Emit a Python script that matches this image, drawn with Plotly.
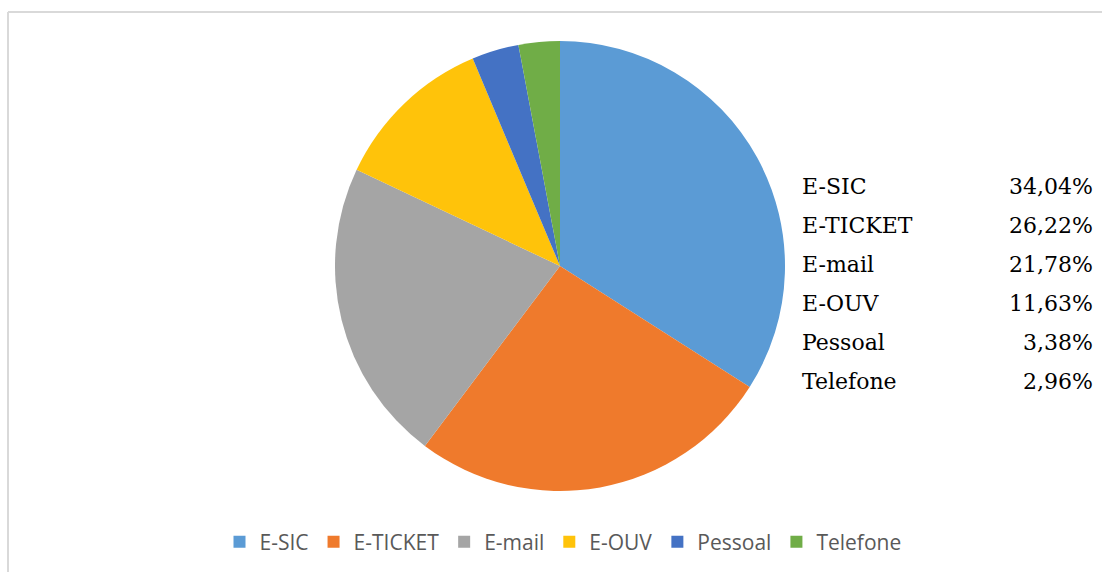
import plotly.graph_objects as go

W, H = 1102, 572

categories = ["E-SIC", "E-TICKET", "E-mail", "E-OUV", "Pessoal", "Telefone"]
shares = [34.04, 26.22, 21.78, 11.63, 3.38, 2.96]
colors = ["#5b9bd5", "#ef7a2c", "#a5a5a5", "#ffc30a", "#4472c4", "#70ad47"]


def px_x(x):
    return x / W


def px_y(y):
    return 1 - y / H


cx, cy, r = 560, 266, 225

fig = go.Figure(
    go.Pie(
        labels=categories,
        values=shares,
        sort=False,
        direction="clockwise",
        rotation=0,
        textinfo="none",
        hoverinfo="label+percent",
        marker=dict(colors=colors, line=dict(width=0)),
        domain=dict(x=[px_x(cx - r), px_x(cx + r)], y=[px_y(cy + r), px_y(cy - r)]),
    )
)

annotations = []
row0, step = 186.5, 38.9
for i, (lab, val) in enumerate(zip(categories, shares)):
    yy = px_y(row0 + i * step)
    annotations.append(dict(
        x=px_x(800), y=yy, xref="paper", yref="paper", xanchor="left", yanchor="middle",
        text=lab, showarrow=False,
        font=dict(family="DejaVu Serif", size=22, color="#000000"),
    ))
    annotations.append(dict(
        x=px_x(1095), y=yy, xref="paper", yref="paper", xanchor="right", yanchor="middle",
        text=f"{val:.2f}".replace(".", ",") + "%", showarrow=False,
        font=dict(family="DejaVu Serif", size=22, color="#000000"),
    ))

fig.update_layout(
    width=W, height=H,
    margin=dict(l=0, r=0, t=0, b=0),
    paper_bgcolor="white",
    showlegend=True,
    legend=dict(
        orientation="h", x=px_x(563), y=px_y(542), xanchor="center", yanchor="middle",
        font=dict(family="Open Sans", size=21, color="#595959"),
        itemwidth=30, traceorder="normal",
    ),
    annotations=annotations,
    shapes=[
        dict(type="line", xref="paper", yref="paper", x0=px_x(8), x1=px_x(1110),
             y0=px_y(12), y1=px_y(12), line=dict(color="#d9d9d9", width=2)),
        dict(type="line", xref="paper", yref="paper", x0=px_x(8), x1=px_x(8),
             y0=px_y(12), y1=px_y(580), line=dict(color="#d9d9d9", width=2)),
    ],
)

fig.write_html("out.html")
